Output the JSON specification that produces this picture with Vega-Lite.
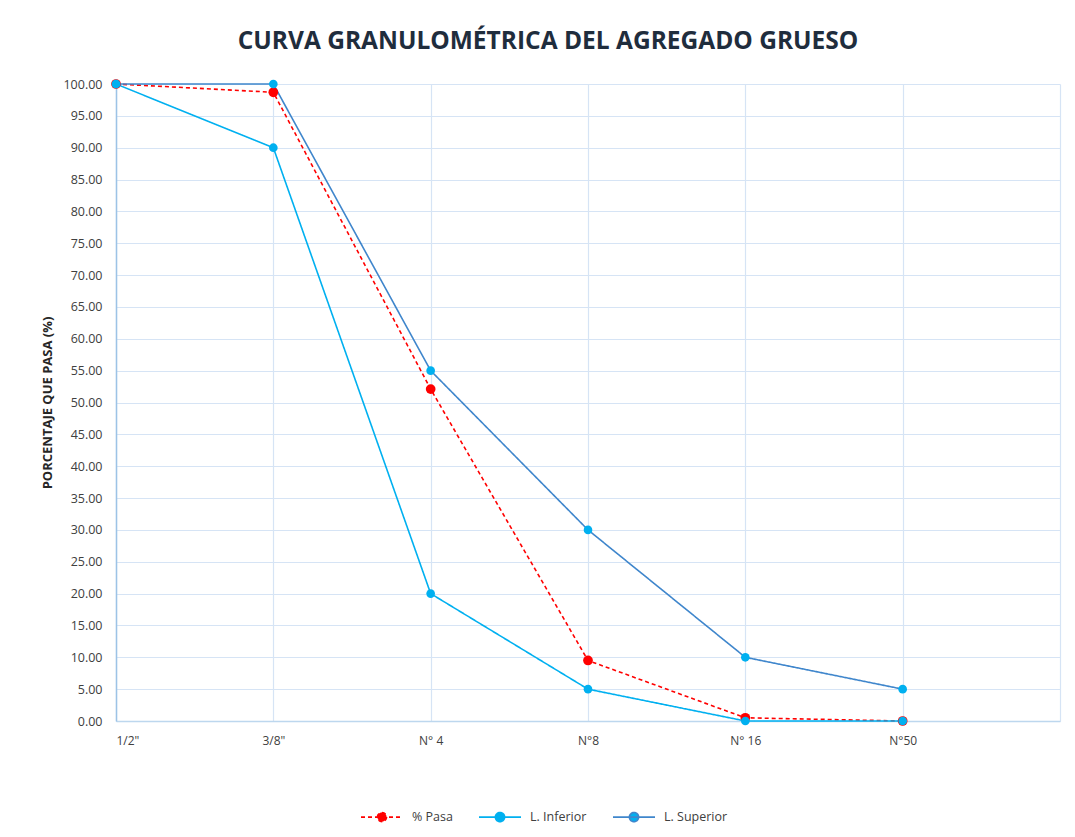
{
  "$schema": "https://vega.github.io/schema/vega-lite/v6.json",
  "autosize": "none",
  "width": 944,
  "height": 637,
  "padding": {"left": 116, "top": 84, "right": 15, "bottom": 116},
  "background": "white",
  "title": {
    "text": "CURVA GRANULOMÉTRICA DEL AGREGADO GRUESO",
    "font": "Open Sans",
    "fontSize": 24.5,
    "fontWeight": "bold",
    "color": "#1F2D3D",
    "anchor": "middle",
    "dx": -40,
    "offset": 24
  },
  "data": {
    "values": [
      {"tamiz": "1/2\"", "serie": "% Pasa", "valor": 100.0},
      {"tamiz": "3/8\"", "serie": "% Pasa", "valor": 98.7},
      {"tamiz": "N° 4", "serie": "% Pasa", "valor": 52.1},
      {"tamiz": "N°8", "serie": "% Pasa", "valor": 9.5},
      {"tamiz": "N° 16", "serie": "% Pasa", "valor": 0.5},
      {"tamiz": "N°50", "serie": "% Pasa", "valor": 0.0},
      {"tamiz": "1/2\"", "serie": "L. Inferior", "valor": 100},
      {"tamiz": "3/8\"", "serie": "L. Inferior", "valor": 90},
      {"tamiz": "N° 4", "serie": "L. Inferior", "valor": 20},
      {"tamiz": "N°8", "serie": "L. Inferior", "valor": 5},
      {"tamiz": "N° 16", "serie": "L. Inferior", "valor": 0},
      {"tamiz": "N°50", "serie": "L. Inferior", "valor": 0},
      {"tamiz": "1/2\"", "serie": "L. Superior", "valor": 100},
      {"tamiz": "3/8\"", "serie": "L. Superior", "valor": 100},
      {"tamiz": "N° 4", "serie": "L. Superior", "valor": 55},
      {"tamiz": "N°8", "serie": "L. Superior", "valor": 30},
      {"tamiz": "N° 16", "serie": "L. Superior", "valor": 10},
      {"tamiz": "N°50", "serie": "L. Superior", "valor": 5}
    ]
  },
  "encoding": {
    "x": {
      "field": "tamiz",
      "type": "ordinal",
      "sort": null,
      "scale": {"type": "point", "domain": ["1/2\"", "3/8\"", "N° 4", "N°8", "N° 16", "N°50", " "], "padding": 0},
      "axis": {
        "title": null,
        "labelAngle": 0,
        "labelFont": "Open Sans",
        "labelFontSize": 12,
        "labelColor": "#404040",
        "labelPadding": 14,
        "labelFlush": true,
        "ticks": false,
        "domainColor": "#BDD7EE",
        "domainWidth": 1.5,
        "grid": true,
        "gridColor": "#D6E4F5",
        "gridWidth": 1.2
      }
    },
    "y": {
      "field": "valor",
      "type": "quantitative",
      "scale": {"domain": [0, 100], "nice": false},
      "axis": {
        "title": "PORCENTAJE  QUE PASA (%)",
        "titleFont": "Open Sans",
        "titleFontSize": 13,
        "titleFontWeight": "bold",
        "titleColor": "#262626",
        "titlePadding": 8,
        "values": [0,5,10,15,20,25,30,35,40,45,50,55,60,65,70,75,80,85,90,95,100],
        "format": ".2f",
        "labelFont": "Open Sans",
        "labelFontSize": 12.5,
        "labelColor": "#404040",
        "labelPadding": 14,
        "ticks": false,
        "domainColor": "#9DC3E6",
        "domainWidth": 1.5,
        "grid": true,
        "gridColor": "#D6E4F5",
        "gridWidth": 1.2
      }
    }
  },
  "layer": [
    {
      "mark": {"type": "line", "strokeWidth": 1.6},
      "encoding": {
        "color": {
          "field": "serie",
          "type": "nominal",
          "scale": {"domain": ["% Pasa", "L. Inferior", "L. Superior"], "range": ["#FF0000", "#00B0F0", "#3F86CC"]},
          "legend": {
            "title": null,
            "orient": "none",
            "direction": "horizontal",
            "legendX": 244,
            "legendY": 711,
            "symbolType": "M-1,0H1M-0.22,0A0.22,0.22 0 1,1 0.22,0A0.22,0.22 0 1,1 -0.22,0Z",
            "symbolSize": 1764,
            "symbolStrokeWidth": 1.6,
            "labelFont": "Open Sans",
            "labelFontSize": 12.5,
            "labelColor": "#404040",
            "labelOffset": 8,
            "columnPadding": 22,
            "encode": {
              "symbols": {"update": {
                "fill": {"scale": "fill", "field": "value"}
              }}
            }
          }
        },
        "strokeDash": {
          "field": "serie",
          "type": "nominal",
          "scale": {"domain": ["% Pasa", "L. Inferior", "L. Superior"], "range": [[4, 3], [1, 0], [1, 0]]},
          "legend": null
        }
      }
    },
    {
      "transform": [{"filter": "datum.serie === '% Pasa'"}],
      "mark": {"type": "point", "filled": true, "opacity": 1, "size": 95, "color": "#FF0000"},
      "encoding": {}
    },
    {
      "transform": [{"filter": "datum.serie !== '% Pasa'"}],
      "mark": {"type": "point", "filled": true, "opacity": 1, "size": 75},
      "encoding": {
        "fill": {
          "field": "serie",
          "type": "nominal",
          "scale": {"domain": ["% Pasa", "L. Inferior", "L. Superior"], "range": ["#FF0000", "#00B0F0", "#00B0F0"]},
          "legend": null
        }
      }
    }
  ],
  "config": {
    "view": {"stroke": null}
  }
}
